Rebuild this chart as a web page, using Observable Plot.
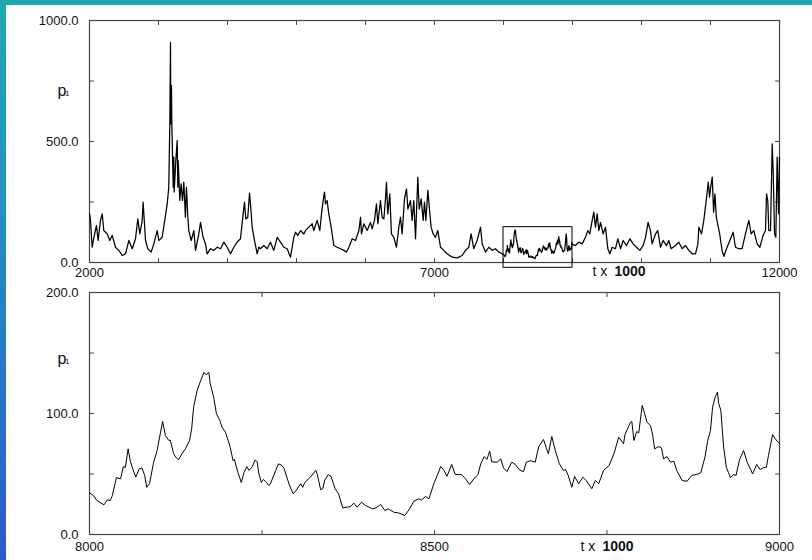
<!DOCTYPE html>
<html><head><meta charset="utf-8">
<script src="https://cdn.jsdelivr.net/npm/d3@7"></script>
<script src="https://cdn.jsdelivr.net/npm/@observablehq/plot@0.6"></script>
<style>
html,body{margin:0;padding:0;}
body{width:812px;height:560px;overflow:hidden;position:relative;
 background:linear-gradient(180deg,#1fa9ae 0%,#2290c0 40%,#3157d0 100%);
 font-family:"Liberation Sans",Arial,Helvetica,sans-serif;}
#paper{position:absolute;left:6px;top:5px;width:806px;height:555px;background:#fff;}
.panel{position:absolute;left:0;}
#top{top:0;} #bot{top:280px;}
</style></head>
<body>
<div id="paper"></div>
<div id="top" class="panel"></div>
<div id="bot" class="panel"></div>
<script>
// ---- data: [t (x1000), p] ----
const topEarly = [
[2000,201],[2013,180],[2039,63],[2060,98],[2101,153],[2125,91],[2159,174],[2184,201],[2207,132],[2257,118],
[2294,91],[2329,112],[2377,63],[2425,50],[2474,29],[2522,36],[2570,91],[2619,57],[2667,98],[2700,180],
[2729,118],[2764,174],[2777,249],[2812,91],[2845,57],[2894,43],[2932,77],[2981,132],[3005,91],[3053,104],
[3101,194],[3126,242],[3149,311],[3164,573],[3174,910],[3178,573],[3188,731],[3193,573],[3213,311],[3222,435],
[3227,291],[3251,421],[3271,504],[3280,311],[3285,421],[3309,256],[3328,325],[3348,256],[3367,332],[3390,187],
[3405,311],[3425,187],[3439,132],[3474,91],[3512,132],[3536,50],[3584,118],[3609,166],[3646,104],[3681,77],
[3705,36],[3754,57],[3802,50],[3850,63],[3899,57],[3947,84],[3995,63],[4043,36],[4092,63],[4140,84],
[4188,98],[4227,201],[4246,249],[4266,180],[4294,187],[4319,287],[4333,242],[4358,146],[4391,91],[4430,36],
[4454,63],[4478,57],[4526,70],[4575,57],[4623,84],[4671,50],[4720,104],[4768,84],[4816,63],[4865,57],
[4913,22],[4961,104],[4986,125],[5019,112],[5058,132],[5106,118],[5130,132],[5154,139],[5179,146],[5227,160],
[5251,132],[5299,174],[5338,132],[5362,201],[5386,256],[5406,291],[5420,242],[5444,256],[5468,201],[5502,146],
[5541,70],[5589,63],[5638,57],[5686,50],[5725,43],[5759,63],[5807,98],[5855,91],[5904,132],[5928,187],
[5942,118],[5976,160],[6024,132],[6072,166],[6096,139],[6130,174],[6159,242],[6179,160],[6217,256],[6241,187],
[6266,180],[6290,263],[6304,332],[6323,201],[6352,284],[6376,118],[6411,104],[6449,63],[6483,146],[6507,187],
[6531,118],[6565,263],[6594,304],[6614,221],[6652,256],[6676,174],[6700,256],[6725,98],[6758,353],[6778,221],
[6807,263],[6836,174],[6855,249],[6875,174],[6904,298],[6933,201],[6951,146],[6981,118],[7014,104],[7048,132],
[7087,63],[7135,50],[7183,36],[7256,22],[7328,19],[7401,29],[7449,50],[7497,63],[7531,118],[7569,57],
[7618,91],[7667,146],[7691,77],[7739,43],[7787,63],[7836,50],[7884,57],[7932,43],[7980,36]
];
const zoomWindow = [
[8000,34.5],[8006,32],[8011,28],[8021,24.5],[8026,28.7],[8030,28],[8033,32],[8039,47],[8045,46],[8049,56],
[8052,55.5],[8056,70.8],[8059,61],[8062,55.6],[8067,47.4],[8069,50],[8072,54.3],[8076,55],[8080,48.8],[8083,39],
[8087,42],[8093,59.8],[8098,69.4],[8103,84.6],[8106,93.4],[8110,81.8],[8115,77.7],[8117,78],[8122,66.7],[8125,64],
[8129,61.7],[8134,66.7],[8139,70.8],[8145,77.7],[8148,87],[8151,105.8],[8156,119],[8161,127],[8166,134],[8169,132],
[8173,134],[8175,124.5],[8180,113.5],[8184,99.7],[8189,94.2],[8192,88.7],[8197,84.5],[8201,77.7],[8204,72],[8208,61],
[8210,62],[8215,51.5],[8220,43],[8224,51.5],[8228,56],[8231,53],[8236,56],[8240,61.7],[8243,60],[8245,51.5],
[8249,43],[8252,45.5],[8255,44],[8260,40.5],[8262,41.7],[8270,53],[8274,58.4],[8279,57],[8282,54.5],[8289,42],
[8295,33.6],[8299,36],[8306,42],[8309,39],[8312,43],[8320,47.4],[8328,53],[8330,50],[8335,37],[8338,37.8],
[8341,45],[8346,49.6],[8350,48],[8356,37.8],[8361,33.6],[8367,22],[8373,22.6],[8378,23],[8383,25.9],[8388,22.6],
[8394,26.7],[8400,24],[8410,21.2],[8415,22],[8422,24.8],[8428,19.8],[8433,21.2],[8441,18.4],[8448,17.8],[8457,15.7],
[8463,20.4],[8470,27.5],[8477,29.5],[8481,28.4],[8487,31.4],[8492,29.5],[8499,42],[8504,48.8],[8509,56.2],[8514,52.9],
[8518,48],[8525,57.9],[8530,49.6],[8535,49.6],[8539,49.6],[8545,46],[8551,41.3],[8557,46],[8563,49.6],[8567,58.4],
[8572,64.4],[8576,62],[8580,68.9],[8583,60],[8591,59.8],[8596,62.5],[8600,55],[8605,52],[8612,59.8],[8617,57.9],
[8624,53],[8629,52],[8633,59.8],[8639,61],[8646,59.8],[8651,72.7],[8658,78.5],[8665,66.7],[8670,81],[8675,69.4],
[8681,58.4],[8687,52.9],[8690,53.7],[8694,48.5],[8699,39],[8703,47.9],[8709,42],[8715,47.4],[8720,44.5],[8728,37.8],
[8733,44.6],[8738,42],[8745,52.9],[8753,57],[8760,66.7],[8767,80.4],[8774,75],[8776,82.6],[8784,92.8],[8786,93.4],
[8789,77.7],[8793,85],[8796,84],[8801,106.6],[8804,101],[8808,92.8],[8813,90],[8816,83],[8819,70.8],[8825,72.7],
[8829,71.6],[8832,62.5],[8837,64.4],[8842,59.8],[8847,60.5],[8851,52.9],[8859,44.6],[8866,44],[8873,48.8],[8882,50],
[8886,51.2],[8892,63.9],[8896,77.7],[8900,86],[8903,105.2],[8907,114],[8910,117.6],[8912,108],[8915,102.7],[8919,72.2],
[8923,55.6],[8926,51.2],[8929,46.8],[8933,49.6],[8937,48.8],[8942,61.7],[8948,69.4],[8953,60],[8961,50.1],[8967,57.9],
[8972,53.7],[8976,55],[8981,55.6],[8984,65.3],[8990,82.6],[8994,79],[8998,76.3],[9000,75]
];
const topLate = [
[9043,70],[9092,84],[9140,77],[9188,104],[9222,132],[9251,118],[9285,174],[9309,208],[9333,146],[9357,201],
[9382,132],[9406,166],[9444,118],[9478,146],[9512,57],[9541,36],[9575,63],[9623,57],[9657,98],[9696,57],
[9734,91],[9783,70],[9831,98],[9879,77],[9928,63],[9976,50],[10024,70],[10058,104],[10096,166],[10130,132],
[10154,77],[10203,118],[10236,132],[10275,63],[10314,91],[10362,70],[10396,91],[10430,57],[10493,70],[10541,84],
[10589,57],[10638,70],[10686,50],[10734,36],[10783,36],[10817,77],[10831,146],[10870,118],[10903,174],[10938,256],
[10968,332],[10986,270],[11006,318],[11025,353],[11045,208],[11064,284],[11084,187],[11133,118],[11168,50],[11193,25],
[11232,57],[11280,91],[11328,125],[11362,63],[11410,57],[11458,57],[11507,118],[11555,174],[11589,118],[11628,132],
[11676,77],[11715,63],[11762,112],[11797,132],[11812,284],[11830,256],[11845,132],[11870,132],[11894,490],[11908,380],
[11928,118],[11947,104],[11966,435],[11986,201],[12000,435]
];
// zoom window drawn as a box on the upper panel: [t1, t2] and [p1, p2]
const boxT = [8000, 9000];
const boxP = [-22, 146];
// axis ticks
const topXTicks = [2000,3000,4000,5000,6000,7000,8000,9000,10000,11000,12000];
const topXLabels = [2000,7000,12000];
const topYTicks = [250,500,750];
const topYLabels = [0,500,1000];
const botXTicks = [8250,8500,8750];
const botXLabels = [8000,8500,9000];
const botYTicks = [50,100,150];
const botYLabels = [0,100,200];

const FONT = "'Liberation Sans', Arial, Helvetica, sans-serif";
const fmt1 = d3.format(".1f");
const fmtD = d3.format("d");
const toRows = a => a.map(([t,p]) => ({t,p}));
const topSeries = toRows([...topEarly, ...zoomWindow, ...topLate]);
const botSeries = toRows(zoomWindow);

// a plain straight tick shape for Plot.vector
const tickShape = {draw(ctx, l) { ctx.moveTo(0, 0); ctx.lineTo(0, -l); }};

function panel({data, xDomain, yDomain, xTicks, xLabels, yTicks, yLabels, height, mt, mb, extra, labelDy, pDy, txDx, txDy, lineW}) {
  const grey = "#444";
  const T = 4; // inward tick length
  const tickOpts = {length: T, anchor: "start", shape: tickShape, stroke: grey, strokeWidth: 1};
  return Plot.plot({
    width: 812, height,
    marginLeft: 89, marginRight: 33, marginTop: mt, marginBottom: mb,
    style: {background: "transparent", fontFamily: FONT, overflow: "visible"},
    x: {domain: xDomain},
    y: {domain: yDomain},
    marks: [
      Plot.frame({stroke: grey, strokeWidth: 1.2}),
      Plot.vector(xTicks, {x: d => d, frameAnchor: "bottom", rotate: 0, ...tickOpts}),
      Plot.vector(xTicks, {x: d => d, frameAnchor: "top", rotate: 180, ...tickOpts}),
      Plot.vector(yTicks, {y: d => d, frameAnchor: "left", rotate: 90, ...tickOpts}),
      Plot.vector(yTicks, {y: d => d, frameAnchor: "right", rotate: -90, ...tickOpts}),
      Plot.axisX({anchor: "bottom", ticks: xLabels, tickSize: 0, tickPadding: labelDy, tickFormat: fmtD, label: null,
                  fontSize: 13, fill: "#111", style: {letterSpacing: "0.4px"}}),
      Plot.axisY({anchor: "left", ticks: yLabels, tickSize: 0, tickPadding: 11, tickFormat: fmt1, label: null,
                  fontSize: 13, fill: "#111"}),
      Plot.line(data, {x: "t", y: "p", stroke: "#000", strokeWidth: lineW}),
      ...extra,
      Plot.text(["p"], {text: d => d, frameAnchor: "top-left", dx: -32, dy: pDy, fontSize: 16, fill: "#111"}),
      Plot.text(["1"], {text: d => d, frameAnchor: "top-left", dx: -24.5, dy: pDy + 6, fontSize: 8, fill: "#111"}),
      Plot.text(["t x"], {text: d => d, frameAnchor: "bottom", textAnchor: "start", dx: txDx, dy: txDy, fontSize: 14, fill: "#111"}),
      Plot.text(["1000"], {text: d => d, frameAnchor: "bottom", textAnchor: "start", dx: txDx + 22, dy: txDy, fontSize: 14, fontWeight: "bold", fill: "#111"})
    ]
  });
}

document.getElementById("top").append(panel({
  data: topSeries, xDomain: [2000, 12000], yDomain: [0, 1000],
  xTicks: topXTicks, xLabels: topXLabels, yTicks: topYTicks, yLabels: topYLabels,
  height: 285, mt: 20, mb: 23, labelDy: 5, pDy: 64, txDx: 158, txDy: 13, lineW: 1.25,
  extra: [Plot.rect([{}], {x1: () => boxT[0], x2: () => boxT[1], y1: () => boxP[0], y2: () => boxP[1],
                          fill: "none", stroke: "#000", strokeWidth: 1})]
}));
document.getElementById("bot").append(panel({
  data: botSeries, xDomain: [8000, 9000], yDomain: [0, 200],
  xTicks: botXTicks, xLabels: botXLabels, yTicks: botYTicks, yLabels: botYLabels,
  height: 280, mt: 12, mb: 26, labelDy: 7, pDy: 60, txDx: 146, txDy: 16, lineW: 1,
  extra: []
}));
</script>
</body></html>
